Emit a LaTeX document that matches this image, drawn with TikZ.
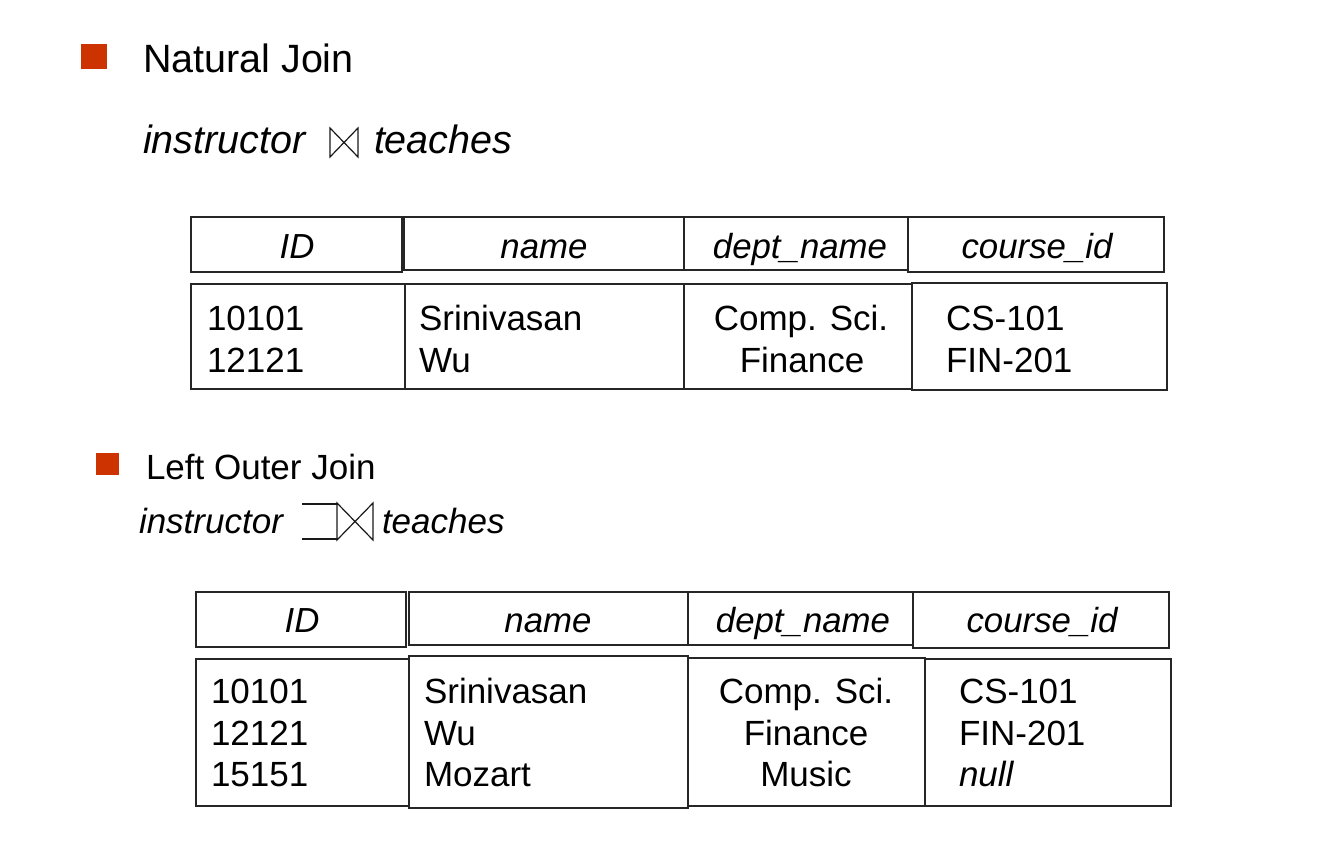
\documentclass[tikz,border=0pt]{standalone}
\usepackage{fontspec}
\setmainfont{Liberation Sans}
\definecolor{bulletred}{RGB}{204,51,0}
\begin{document}
\begin{tikzpicture}[x=1pt,y=-1pt,
  txt/.style={inner sep=0pt, outer sep=0pt},
  cell/.style={draw=black!85, line width=1.3pt},
  bul/.style={fill=bulletred},
  sym/.style={draw=black!90, line width=1.2pt},
  ttl/.style={txt, anchor=base west, font=\fontsize{39.5}{45}\selectfont},
  ttli/.style={txt, anchor=base west, font=\fontsize{39.5}{45}\selectfont\itshape},
  sub/.style={txt, anchor=base west, font=\fontsize{35}{41}\selectfont},
  subi/.style={txt, anchor=base west, font=\fontsize{35}{41}\selectfont\itshape},
  hd/.style={txt, anchor=base, font=\fontsize{34.8}{40}\selectfont\itshape},
  bd/.style={txt, anchor=base west, font=\fontsize{35}{40}\selectfont},
  bdi/.style={txt, anchor=base west, font=\fontsize{35}{40}\selectfont\itshape},
  bdc/.style={txt, anchor=base, font=\fontsize{35}{40}\selectfont},
]
\useasboundingbox (0,0) rectangle (1338,859);

% ---------- Natural Join ----------
\fill[bul] (81,44) rectangle (107,69);
\node[ttl] (t1) at (143,72.5) {Natural Join};
\node[ttli] (e1a) at (143,153) {instructor};
\draw[sym] (330,128) -- (330,157) -- (358,128) -- (358,157) -- cycle;
\node[ttli] (e1b) at (374,153) {teaches};

% header table 1
\draw[cell] (191,217) rectangle (402,272);
\draw[cell] (404,217) rectangle (684,270);
\draw[cell] (684,217) rectangle (908,270);
\draw[cell] (908,217) rectangle (1164,272);
\node[hd] (h1a) at (297,258) {ID};
\node[hd] (h1b) at (544,258) {name};
\node[hd] (h1c) at (800,258) {dept\_name};
\node[hd] (h1d) at (1037,258) {course\_id};

% body table 1
\draw[cell] (191,284) rectangle (405,389);
\draw[cell] (405,284) rectangle (684,389);
\draw[cell] (684,284) rectangle (912,389);
\draw[cell] (912,283) rectangle (1167,390);
\node[bd] (r1a1) at (207,330) {10101};
\node[bd] (r1a2) at (207,372) {12121};
\node[bd] (r1b1) at (419,330) {Srinivasan};
\node[bd] (r1b2) at (419,372) {Wu};
\node[bdc] (r1c1) at (801,330) {Comp. Sci.};
\node[bdc] (r1c2) at (802,372) {Finance};
\node[bd] (r1d1) at (946,330) {CS-101};
\node[bd] (r1d2) at (946,372) {FIN-201};

% ---------- Left Outer Join ----------
\fill[bul] (96,453) rectangle (119,475);
\node[sub] (t2) at (146,479) {Left Outer Join};
\node[subi] (e2a) at (139,533) {instructor};
\draw[sym] (302,504) -- (337,504);
\draw[sym] (302,539) -- (337,539);
\draw[sym] (337,503) -- (337,540) -- (373,503) -- (373,540) -- cycle;
\node[subi] (e2b) at (382,533) {teaches};

% header table 2
\draw[cell] (196,592) rectangle (406,647);
\draw[cell] (409,592) rectangle (688,645);
\draw[cell] (688,592) rectangle (913,645);
\draw[cell] (913,592) rectangle (1169,648);
\node[hd] (h2a) at (302,632) {ID};
\node[hd] (h2b) at (548,632) {name};
\node[hd] (h2c) at (803,632) {dept\_name};
\node[hd] (h2d) at (1042,632) {course\_id};

% body table 2
\draw[cell] (196,659) rectangle (409,806);
\draw[cell] (409,656) rectangle (688,808);
\draw[cell] (688,658) rectangle (925,806);
\draw[cell] (925,659) rectangle (1171,806);
\node[bd] (r2a1) at (211,703.5) {10101};
\node[bd] (r2a2) at (211,745) {12121};
\node[bd] (r2a3) at (211,786.5) {15151};
\node[bd] (r2b1) at (424,703.5) {Srinivasan};
\node[bd] (r2b2) at (424,745) {Wu};
\node[bd] (r2b3) at (424,786.5) {Mozart};
\node[bdc] (r2c1) at (806,703.5) {Comp. Sci.};
\node[bdc] (r2c2) at (806,745) {Finance};
\node[bdc] (r2c3) at (806,786.5) {Music};
\node[bd] (r2d1) at (959,703.5) {CS-101};
\node[bd] (r2d2) at (959,745) {FIN-201};
\node[bdi] (r2d3) at (959,786.5) {null};
\end{tikzpicture}
\end{document}
